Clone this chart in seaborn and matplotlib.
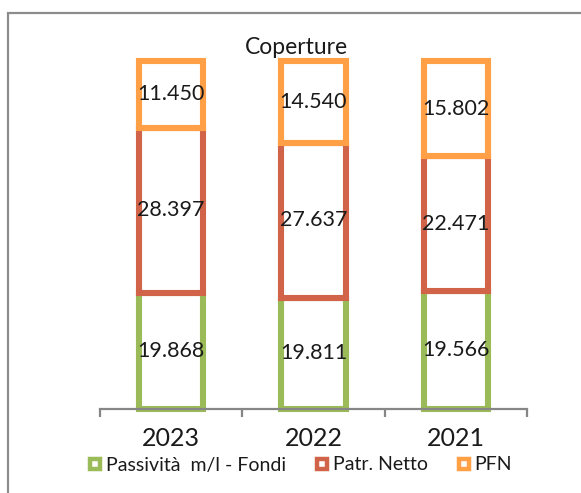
import matplotlib
matplotlib.use("Agg")
import matplotlib.pyplot as plt
from matplotlib.lines import Line2D
import seaborn as sns
import numpy as np
import pandas as pd

years = ["2023", "2022", "2021"]
series_names = ["Passività  m/l - Fondi", "Patr. Netto", "PFN"]
passivita = [19868, 19811, 19566]
patr_netto = [28397, 27637, 22471]
pfn = [11450, 14540, 15802]
title = "Coperture"

colors = ["#9BBB59", "#D16349", "#FFA046"]

sns.set_theme(style="white")
plt.rcParams["font.family"] = ["Lato", "DejaVu Sans"]

W, H = 581, 493
fig = plt.figure(figsize=(W / 100, H / 100), dpi=100)
fig.patch.set_facecolor("white")

ax_left, ax_right, ax_bottom, ax_top = 100, 527, 409, 61
ax = fig.add_axes([ax_left / W, 1 - ax_bottom / H, (ax_right - ax_left) / W, (ax_bottom - ax_top) / H])

data = np.array([passivita, patr_netto, pfn], dtype=float)
totals = data.sum(axis=0)
shares = data / totals * 100
bottoms = np.zeros(len(years))

for i, (name, col) in enumerate(zip(series_names, colors)):
    df = pd.DataFrame({"anno": years, "val": shares[i]})
    n_before = len(ax.patches)
    sns.barplot(data=df, x="anno", y="val", order=years, color=col, width=0.45,
                errorbar=None, bottom=bottoms.copy(), ax=ax)
    for p in ax.patches[n_before:]:
        p.set_facecolor("white")
        p.set_edgecolor(col)
        p.set_linewidth(4.4)
        p.set_clip_on(False)
        p.set_joinstyle("miter")
    cont = ax.containers[-1]
    labels = [f"{v:,}".replace(",", ".") for v in data[i].astype(int)]
    ax.bar_label(cont, labels=labels, label_type="center", fontsize=15.5, color="#1a1a1a")
    bottoms += shares[i]

ax.set_xlim(-0.5, 2.5)
ax.set_ylim(0, 100)
ax.set_xlabel("")
ax.set_ylabel("")
ax.set_yticks([])
for s in ["left", "top", "right"]:
    ax.spines[s].set_visible(False)
ax.spines["bottom"].set_color("#868686")
ax.spines["bottom"].set_linewidth(1.6)
ax.spines["bottom"].set_zorder(5)
ax.set_xticks([-0.5, 0.5, 1.5, 2.5], minor=True)
ax.tick_params(axis="x", which="minor", bottom=True, direction="out", length=5.5, width=1.6, color="#868686")
ax.tick_params(axis="x", which="major", bottom=True, length=0, pad=13, labelsize=18, labelcolor="#1a1a1a")
ax.set_facecolor("none")

fig.text(296 / W, 1 - 47 / H, title, ha="center", va="center", fontsize=16.5, color="#1a1a1a")

handles = [Line2D([], [], linestyle="none", marker="s", markersize=6.5, markeredgewidth=3.2,
                  markerfacecolor="white", markeredgecolor=c) for c in colors]
fig.legend(handles, series_names, loc="center", bbox_to_anchor=(300 / W, 1 - 465 / H), ncol=3,
           frameon=False, fontsize=14, handlelength=0.7, handletextpad=0.2, columnspacing=1.5,
           borderpad=0, labelcolor="#1a1a1a")

border = Line2D([8 / W, 8 / W, 1.0], [0.0, 1 - 13 / H, 1 - 13 / H], transform=fig.transFigure,
                color="#8c8c8c", linewidth=1.6, solid_joinstyle="miter")
fig.add_artist(border)

fig.savefig("out.png", dpi=100, facecolor="white")
